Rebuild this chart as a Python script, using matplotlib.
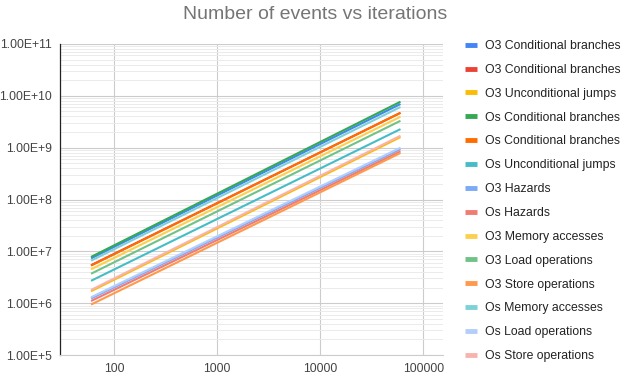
import math
import matplotlib
matplotlib.use('Agg')
import matplotlib.pyplot as plt
from matplotlib.ticker import FixedLocator, FuncFormatter, LogLocator, NullFormatter

plt.rcParams['font.family'] = ['Liberation Sans', 'DejaVu Sans']

# iterations at the start and end of each line
iterations = [60, 60000]

# event counts (start, end)
o3_cond_a = [7.3e6, 6.95e9]
o3_cond_b = [5.4e6, 4.7e9]
o3_uncond = [1.7e6, 1.6e9]
os_cond_a = [7.8e6, 7.7e9]
os_cond_b = [5.3e6, 4.7e9]
os_uncond = [2.7e6, 2.28e9]
o3_hazards = [1.23e6, 9.4e8]
os_hazards = [1.1e6, 8.5e8]
o3_mem = [4.5e6, 3.95e9]
o3_load = [3.7e6, 3.3e9]
o3_store = [9.4e5, 7.9e8]
os_mem = [6.6e6, 6.1e9]
os_load = [1.3e6, 1.0e9]
os_store = [1.8e6, 1.7e9]

labels = ["O3 Conditional branches", "O3 Conditional branches", "O3 Unconditional jumps",
          "Os Conditional branches", "Os Conditional branches", "Os Unconditional jumps",
          "O3 Hazards", "Os Hazards", "O3 Memory accesses", "O3 Load operations",
          "O3 Store operations", "Os Memory accesses", "Os Load operations", "Os Store operations"]
series = [o3_cond_a, o3_cond_b, o3_uncond, os_cond_a, os_cond_b, os_uncond,
          o3_hazards, os_hazards, o3_mem, o3_load, o3_store, os_mem, os_load, os_store]
colors = ["#4285F4", "#EA4335", "#FBBC04", "#34A853", "#FF6D01", "#46BDC6",
          "#7BAAF7", "#F07B72", "#FCD04F", "#71C287", "#FF994D", "#7ED1D7",
          "#B3CEFB", "#F7B4AE"]

fig = plt.figure(figsize=(6.24, 3.74), dpi=100)
ax = fig.add_axes([60/624, 1 - 355/374, (443-60)/624, (355-44)/374])

for vals, lab, col in zip(series, labels, colors):
    ax.plot(iterations, vals, color=col, linewidth=1.5, label=lab, solid_capstyle='butt')

ax.set_xscale('log')
ax.set_yscale('log')
ax.set_xlim(30, 155000)
ax.set_ylim(1e5, 1e11)

ax.xaxis.set_major_locator(FixedLocator([100, 1000, 10000, 100000]))
ax.xaxis.set_minor_locator(FixedLocator([]))
ax.xaxis.set_major_formatter(FuncFormatter(lambda v, p: "%d" % v))
ax.yaxis.set_major_locator(FixedLocator([10.0**k for k in range(5, 12)]))
ax.yaxis.set_minor_locator(LogLocator(base=10, subs=range(2, 10)))
ax.yaxis.set_minor_formatter(NullFormatter())
ax.yaxis.set_major_formatter(FuncFormatter(lambda v, p: "1.00E+%d" % round(math.log10(v))))

ax.grid(True, which='major', color='#cccccc', linewidth=0.8)
ax.grid(True, which='minor', axis='y', color='#ebebeb', linewidth=0.7)
ax.set_axisbelow(True)
ax.tick_params(which='both', length=0, labelsize=8.8, colors='#444444', pad=6)

for s in ['top', 'right']:
    ax.spines[s].set_visible(False)
ax.spines['bottom'].set_color('#cccccc')
ax.spines['bottom'].set_linewidth(0.8)
ax.spines['left'].set_color('#222222')
ax.spines['left'].set_linewidth(0.9)

fig.suptitle("Number of events vs iterations", x=315/624, y=0.985, fontsize=14, color='#757575')

leg = ax.legend(loc='upper left', bbox_to_anchor=(465/624, 1 - 40/374), bbox_transform=fig.transFigure,
                frameon=False, fontsize=8.8, handlelength=1.0, handletextpad=0.65,
                labelspacing=0.97, borderaxespad=0, borderpad=0)
for line in leg.get_lines():
    line.set_linewidth(3.5)
for t in leg.get_texts():
    t.set_color('#222222')

fig.savefig("out.png", dpi=100)
